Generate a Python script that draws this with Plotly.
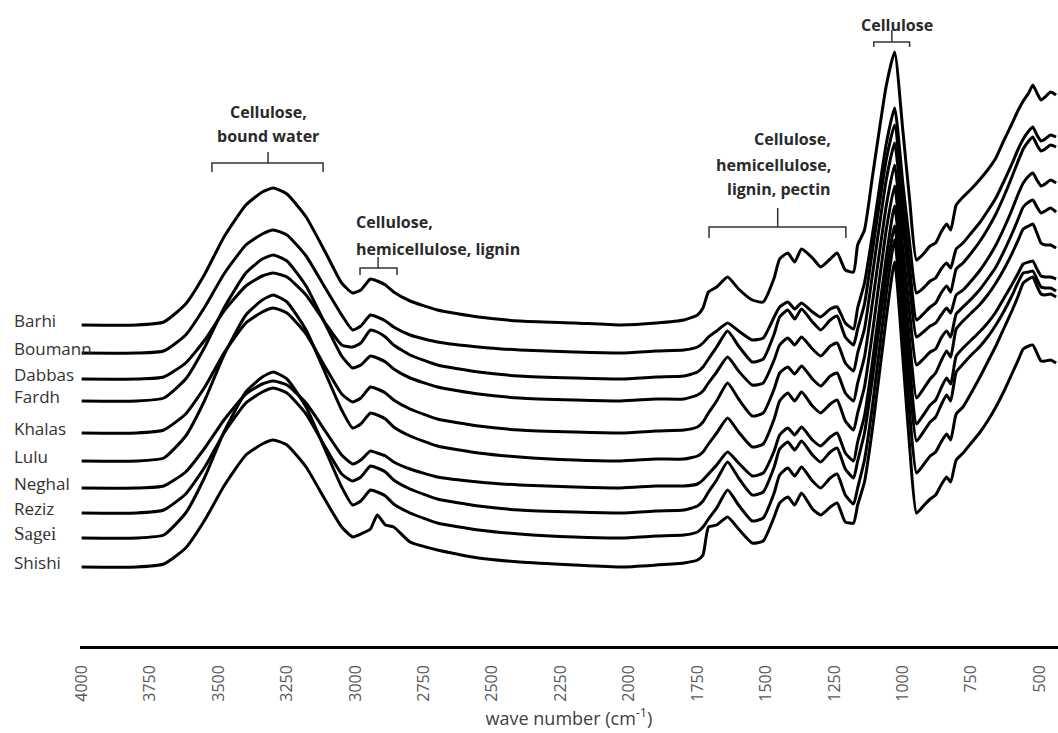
import plotly.graph_objects as go

# ---------------- data ----------------
# wavenumber grid (cm-1)
wn_oh = [4000, 3800, 3700, 3620, 3550, 3480, 3400, 3340, 3300, 3250, 3180, 3110, 3050]
wn_ch = [3010, 2980, 2945, 2920, 2890, 2860, 2800, 2700, 2550, 2400, 2200, 2030, 1900]
wn_fp = [1800, 1750, 1730, 1710, 1680, 1640, 1600, 1550, 1510, 1470, 1450, 1420, 1395,
         1370, 1330, 1300, 1265, 1240, 1210, 1180]
wn_co = [1165, 1140, 1110, 1060, 1030, 1000, 975, 950, 925, 900, 880, 860, 840, 825, 805,
         780, 750, 720, 690, 660, 630, 600, 580, 560, 540, 525, 510, 495, 480, 460, 440]

names = ["Barhi", "Boumann", "Dabbas", "Fardh", "Khalas", "Lulu", "Neghal", "Reziz", "Sagei", "Shishi"]
# vertical stacking offsets (a.u.)
offsets = [321, 293, 267, 245, 213, 185, 158, 133, 108, 79]

# absorbance above each spectrum's own baseline (a.u.)
barhi = ([0, 0, 3, 21, 51, 88, 120, 133, 137, 131, 108, 73, 42] +
         [32, 35, 46, 44, 40, 33, 24, 15, 8, 4, 2, 0, 2] +
         [5, 10, 17, 33, 38, 48, 36, 25, 23, 47, 66, 72, 63, 76, 67, 58, 66, 72, 55, 53] +
         [80, 95, 150, 240, 273, 195, 125, 65, 71, 79, 82, 93, 101, 95, 120, 128, 136, 145,
          155, 167, 185, 202, 214, 224, 232, 240, 232, 225, 228, 233, 230])
boumann = ([0, 0, 2, 18, 46, 79, 108, 119, 123, 118, 97, 65, 38] +
           [23, 27, 38, 36, 32, 26, 18, 11, 6, 3, 1, 0, 2] +
           [3, 6, 10, 16, 22, 30, 22, 13, 15, 36, 46, 51, 44, 50, 41, 36, 44, 46, 30, 24] +
           [45, 70, 120, 210, 245, 170, 110, 60, 65, 72, 75, 84, 90, 85, 104, 110, 120, 130,
            142, 155, 172, 190, 203, 214, 222, 226, 218, 212, 214, 218, 216])
dabbas = ([0, 0, 2, 16, 39, 68, 93, 103, 106, 102, 84, 56, 34] +
          [32, 36, 49, 47, 42, 34, 24, 14, 7, 3, 1, 0, 2] +
          [3, 7, 12, 20, 32, 48, 33, 17, 20, 45, 62, 69, 60, 70, 57, 49, 59, 63, 42, 34] +
          [50, 75, 130, 220, 254, 175, 112, 59, 65, 72, 76, 86, 93, 87, 110, 116, 126, 137,
           150, 165, 183, 203, 217, 230, 238, 242, 234, 228, 230, 234, 232])
fardh = ([0, 0, 3, 22, 54, 93, 128, 142, 146, 140, 115, 77, 45] +
         [33, 36, 45, 43, 39, 32, 23, 14, 7, 3, 1, 0, 2] +
         [2, 6, 10, 18, 29, 44, 30, 16, 18, 41, 56, 63, 56, 64, 52, 45, 55, 58, 38, 30] +
         [48, 72, 128, 222, 258, 180, 115, 64, 69, 75, 78, 86, 93, 88, 106, 111, 120, 130,
          142, 156, 173, 192, 206, 218, 225, 228, 221, 215, 217, 221, 218])
khalas = ([0, 0, 3, 19, 46, 80, 110, 121, 125, 120, 99, 66, 39] +
          [31, 35, 46, 44, 40, 33, 24, 14, 7, 3, 1, 0, 2] +
          [3, 6, 11, 20, 32, 50, 34, 17, 20, 44, 60, 66, 59, 67, 54, 47, 57, 60, 40, 32] +
          [50, 76, 132, 228, 268, 186, 120, 68, 74, 81, 84, 95, 102, 96, 119, 126, 134, 143,
           154, 166, 182, 200, 213, 226, 231, 233, 226, 220, 222, 225, 221])
lulu = ([0, 0, 3, 25, 61, 106, 146, 161, 166, 159, 131, 88, 51] +
        [33, 37, 48, 46, 42, 34, 25, 15, 8, 4, 1, 0, 2] +
        [2, 5, 9, 17, 28, 43, 29, 14, 17, 42, 60, 68, 60, 69, 55, 48, 57, 61, 40, 31] +
        [48, 74, 130, 232, 275, 190, 120, 63, 72, 82, 88, 100, 110, 104, 132, 140, 148, 156,
         166, 178, 192, 208, 220, 232, 235, 237, 228, 218, 216, 216, 213])
neghal = ([0, 0, 2, 16, 40, 68, 94, 104, 107, 103, 85, 57, 33] +
          [24, 28, 37, 35, 32, 26, 19, 11, 6, 3, 1, 0, 2] +
          [2, 4, 8, 14, 23, 36, 25, 12, 15, 37, 53, 60, 53, 61, 48, 42, 51, 55, 35, 27] +
          [46, 72, 128, 232, 282, 196, 122, 64, 73, 83, 88, 100, 110, 104, 132, 140, 148, 156,
           165, 176, 190, 204, 214, 224, 226, 227, 219, 212, 211, 211, 209])
reziz = ([0, 0, 3, 19, 46, 80, 110, 121, 125, 120, 99, 66, 39] +
         [32, 36, 47, 45, 41, 33, 24, 14, 7, 3, 1, 0, 2] +
         [3, 7, 12, 21, 33, 51, 35, 18, 21, 46, 64, 71, 63, 72, 58, 51, 61, 65, 44, 35] +
         [52, 80, 136, 240, 287, 200, 128, 72, 81, 91, 96, 108, 118, 112, 141, 149, 158, 166,
          176, 188, 202, 218, 230, 240, 241, 242, 234, 226, 225, 225, 222])
sagei = ([0, 0, 3, 25, 61, 106, 146, 161, 166, 159, 131, 88, 51] +
         [33, 37, 48, 46, 42, 34, 25, 15, 8, 4, 1, 0, 2] +
         [3, 6, 11, 19, 30, 48, 33, 17, 20, 45, 63, 70, 62, 71, 57, 50, 60, 64, 43, 34] +
         [50, 78, 134, 245, 298, 205, 125, 65, 73, 82, 86, 96, 104, 98, 124, 131, 145, 160,
          176, 192, 210, 228, 241, 255, 259, 261, 252, 244, 243, 244, 241])
shishi = ([0, 0, 3, 19, 47, 81, 112, 123, 127, 122, 100, 67, 40] +
          [30, 33, 38, 52, 42, 40, 25, 17, 9, 5, 2, 0, 2] +
          [4, 7, 12, 40, 42, 50, 38, 24, 26, 50, 64, 70, 62, 74, 58, 52, 60, 64, 45, 44] +
          [62, 85, 140, 250, 305, 210, 120, 54, 61, 68, 72, 82, 90, 85, 107, 114, 124, 134,
           146, 160, 176, 194, 206, 218, 221, 222, 214, 206, 206, 207, 204])

spectra = [barhi, boumann, dabbas, fardh, khalas, lulu, neghal, reziz, sagei, shishi]
wavenumbers = wn_oh + wn_ch + wn_fp + wn_co
ticks = [4000, 3750, 3500, 3250, 3000, 2750, 2500, 2250, 2000, 1750, 1500, 1250, 1000, 750, 500]

# ---------------- figure ----------------
fig = go.Figure()
for name, off, rel in zip(names, offsets, spectra):
    fig.add_trace(go.Scatter(
        x=wavenumbers, y=[off + v for v in rel], mode="lines", name=name,
        line=dict(color="black", width=3, shape="spline", smoothing=0.5),
        showlegend=False, hoverinfo="x+y+name"))

# sample labels at the left
for name, off in zip(names, offsets):
    serif = name == "Sagei"
    fig.add_annotation(x=-0.0695, xref="paper", y=off + 5, yref="y", text=name,
                       showarrow=False, xanchor="left", yanchor="middle",
                       font=dict(family="Liberation Serif" if serif else "Open Sans",
                                 size=19 if serif else 17, color="#333333"))

# band assignment brackets: (left, centre, right wavenumber, bar level, end drop, centre rise)
brackets = [
    (3524, 3319, 3118, 483, 9, 11),
    (2983, 2917, 2848, 378, 7, 11),
    (1708, 1457, 1208, 419, 11, 19),
    (1106, 1040, 975, 604, 5, 12),
]
for xl, xc, xr, yb, dn, up in brackets:
    fig.add_shape(type="path", xref="x", yref="y",
                  path=f"M {xl},{yb - dn} L {xl},{yb} L {xr},{yb} L {xr},{yb - dn}",
                  line=dict(color="#333333", width=1.5))
    fig.add_shape(type="line", xref="x", yref="y", x0=xc, x1=xc, y0=yb, y1=yb + up,
                  line=dict(color="#333333", width=1.5))

bold = dict(family="Open Sans", size=16, color="#2a2a2a", weight="bold")
notes = [
    ("Cellulose,", 3319, 534, "center"),
    ("bound water", 3319, 510, "center"),
    ("Cellulose,", 3005, 424, "left"),
    ("hemicellulose, lignin", 3005, 397, "left"),
    ("Cellulose,", 1256, 507, "right"),
    ("hemicellulose,", 1256, 481, "right"),
    ("lignin, pectin", 1256, 457, "right"),
    ("Cellulose", 1021, 621, "center"),
]
for txt, x, y, anc in notes:
    fig.add_annotation(x=x, y=y, xref="x", yref="y", text=txt, showarrow=False,
                       xanchor=anc, yanchor="middle", font=bold)

fig.update_layout(
    width=1058, height=733,
    margin=dict(l=80, r=0, t=0, b=87),
    plot_bgcolor="white", paper_bgcolor="white",
    xaxis=dict(range=[4006, 433], showgrid=False, zeroline=False,
               showline=True, linecolor="black", linewidth=2.5,
               tickmode="array", tickvals=ticks, ticktext=[str(t) for t in ticks],
               tickangle=-90, ticks="", ticklabelstandoff=10,
               tickfont=dict(family="Open Sans", size=16, color="#595959"),
               title=dict(text="wave number (cm<sup>-1</sup>)", standoff=12,
                          font=dict(family="Open Sans", size=18, color="#404040"))),
    yaxis=dict(range=[0, 646], visible=False, showgrid=False, zeroline=False),
)

fig.write_html("out.html", config={"displayModeBar": False},
               post_script="document.body.style.margin='0';document.body.style.overflow='hidden';")
